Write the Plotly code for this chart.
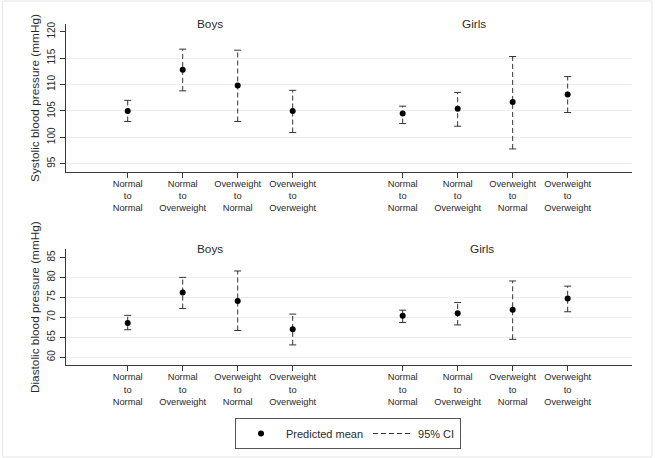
import plotly.graph_objects as go

# ---------------- data ----------------
categories = ["Normal<br>to<br>Normal", "Normal<br>to<br>Overweight",
              "Overweight<br>to<br>Normal", "Overweight<br>to<br>Overweight"]
boys_pos = [1, 2, 3, 4]
girls_pos = [6, 7, 8, 9]

sbp_boys_mean = [105.0, 112.8, 109.8, 105.0]
sbp_boys_lo = [103.0, 108.8, 103.0, 100.9]
sbp_boys_hi = [107.0, 116.7, 116.5, 108.9]
sbp_girls_mean = [104.5, 105.4, 106.7, 108.1]
sbp_girls_lo = [102.6, 102.1, 97.8, 104.7]
sbp_girls_hi = [105.9, 108.5, 115.3, 111.5]

dbp_boys_mean = [68.6, 76.2, 74.1, 67.0]
dbp_boys_lo = [66.9, 72.2, 66.7, 63.1]
dbp_boys_hi = [70.5, 80.0, 81.6, 70.8]
dbp_girls_mean = [70.4, 71.0, 71.9, 74.7]
dbp_girls_lo = [68.7, 68.1, 64.5, 71.4]
dbp_girls_hi = [71.8, 73.7, 79.1, 77.8]

sbp_ticks = [95, 100, 105, 110, 115, 120]
sbp_grid = [95, 100, 105, 110, 115]
dbp_ticks = [60, 65, 70, 75, 80, 85]
dbp_grid = [60, 65, 70, 75, 80]

# ---------------- styling ----------------
W, H = 655, 458
FONT = "Arial, 'Liberation Sans', sans-serif"
TXT = "#2a2a2a"
AX = "#3a3a3a"
GRID = "#E9EEF0"
CI_COL = "#333333"

def px(x):
    return x / W

def py(y):
    return 1 - y / H

fig = go.Figure()

def add_panel(pos, mean, lo, hi, xa, ya, show_legend):
    xs, ys = [], []
    for p, l, h in zip(pos, lo, hi):
        xs += [p, p, None]
        ys += [l, h, None]
    fig.add_trace(go.Scatter(x=xs, y=ys, mode="lines", xaxis=xa, yaxis=ya,
                             line=dict(color=CI_COL, width=1, dash="5px,3px"),
                             name="95% CI", showlegend=show_legend,
                             legendrank=2, hoverinfo="skip"))
    fig.add_trace(go.Scatter(x=pos + pos, y=lo + hi, mode="markers", xaxis=xa, yaxis=ya,
                             marker=dict(symbol="line-ew", size=5,
                                         line=dict(color=CI_COL, width=1)),
                             showlegend=False, hoverinfo="skip"))
    fig.add_trace(go.Scatter(x=pos, y=mean, mode="markers", xaxis=xa, yaxis=ya,
                             marker=dict(symbol="circle", size=6, color="black"),
                             name="Predicted mean", showlegend=show_legend,
                             legendrank=1))

add_panel(boys_pos, sbp_boys_mean, sbp_boys_lo, sbp_boys_hi, "x", "y", True)
add_panel(girls_pos, sbp_girls_mean, sbp_girls_lo, sbp_girls_hi, "x", "y", False)
add_panel(boys_pos, dbp_boys_mean, dbp_boys_lo, dbp_boys_hi, "x2", "y2", False)
add_panel(girls_pos, dbp_girls_mean, dbp_girls_lo, dbp_girls_hi, "x2", "y2", False)

xdom = [px(66), px(632)]
xrange_ = [-0.122, 10.17]
top_dom = [py(172), py(24)]
bot_dom = [py(365.3), py(249)]
sbp_range = [93.43, 121.46]
dbp_range = [58.0, 87.1]

xaxis_common = dict(domain=xdom, range=xrange_, tickmode="array",
                    tickvals=boys_pos + girls_pos, ticktext=categories + categories,
                    showline=True, linecolor=AX, linewidth=1, ticks="outside",
                    ticklen=5, tickcolor=AX, showgrid=False, zeroline=False,
                    tickfont=dict(family=FONT, size=9.3, color=TXT), fixedrange=True,
                    automargin=False, ticklabelstandoff=-2)
yaxis_common = dict(showline=True, linecolor=AX, linewidth=1, ticks="outside",
                    ticklen=5, tickcolor=AX, showgrid=False, zeroline=False,
                    tickangle=-90, tickfont=dict(family=FONT, size=10, color=TXT),
                    title_font=dict(family=FONT, size=11.8, color=TXT),
                    title_standoff=3, fixedrange=True, automargin=False,
                    ticklabelstandoff=1)

fig.update_layout(
    width=W, height=H,
    margin=dict(l=0, r=0, t=0, b=0, autoexpand=False),
    paper_bgcolor="white", plot_bgcolor="white",
    xaxis=dict(anchor="y", **xaxis_common),
    xaxis2=dict(anchor="y2", **xaxis_common),
    yaxis=dict(domain=top_dom, range=sbp_range, anchor="x", tickvals=sbp_ticks,
               title_text="Systolic blood pressure (mmHg)", **yaxis_common),
    yaxis2=dict(domain=bot_dom, range=dbp_range, anchor="x2", tickvals=dbp_ticks,
                title_text="Diastolic blood pressure (mmHg)", **yaxis_common),
    # grid-only overlay axes (no gridline at the top tick)
    yaxis3=dict(overlaying="y", range=sbp_range, tickvals=sbp_grid, showgrid=True,
                gridcolor=GRID, gridwidth=1, showticklabels=False, ticks="",
                showline=False, zeroline=False, layer="below traces", fixedrange=True,
                automargin=False),
    yaxis4=dict(overlaying="y2", range=dbp_range, tickvals=dbp_grid, showgrid=True,
                gridcolor=GRID, gridwidth=1, showticklabels=False, ticks="",
                showline=False, zeroline=False, layer="below traces", fixedrange=True,
                automargin=False),
    showlegend=True,
    legend=dict(orientation="h", x=px(348), y=py(433.5), xanchor="center",
                yanchor="middle", bordercolor="#555555", borderwidth=1,
                font=dict(family=FONT, size=11, color=TXT),
                itemwidth=40, tracegroupgap=0, bgcolor="white"),
    font=dict(family=FONT, color=TXT),
)

fig.add_trace(go.Scatter(x=[None], y=[None], xaxis="x", yaxis="y3", showlegend=False))
fig.add_trace(go.Scatter(x=[None], y=[None], xaxis="x2", yaxis="y4", showlegend=False))

# panel titles
panel_titles = [("Boys", 2.5, "x", "y domain"), ("Girls", 7.3, "x", "y domain"),
                ("Boys", 2.5, "x2", "y2 domain"), ("Girls", 7.45, "x2", "y2 domain")]
for txt, xv, xr, yr in panel_titles:
    fig.add_annotation(text=txt, x=xv, xref=xr, y=1.0, yref=yr, yanchor="middle",
                       showarrow=False, font=dict(family=FONT, size=11.8, color=TXT))

# faint outer frame of the graph region
fig.add_shape(type="rect", xref="paper", yref="paper",
              x0=px(2.5), x1=px(652), y0=py(457), y1=py(1),
              line=dict(color="#E6E6E6", width=1), layer="below")

fig.write_html("out.html", config={"displayModeBar": False},
               post_script="document.body.style.margin='0';document.body.style.padding='0';")
